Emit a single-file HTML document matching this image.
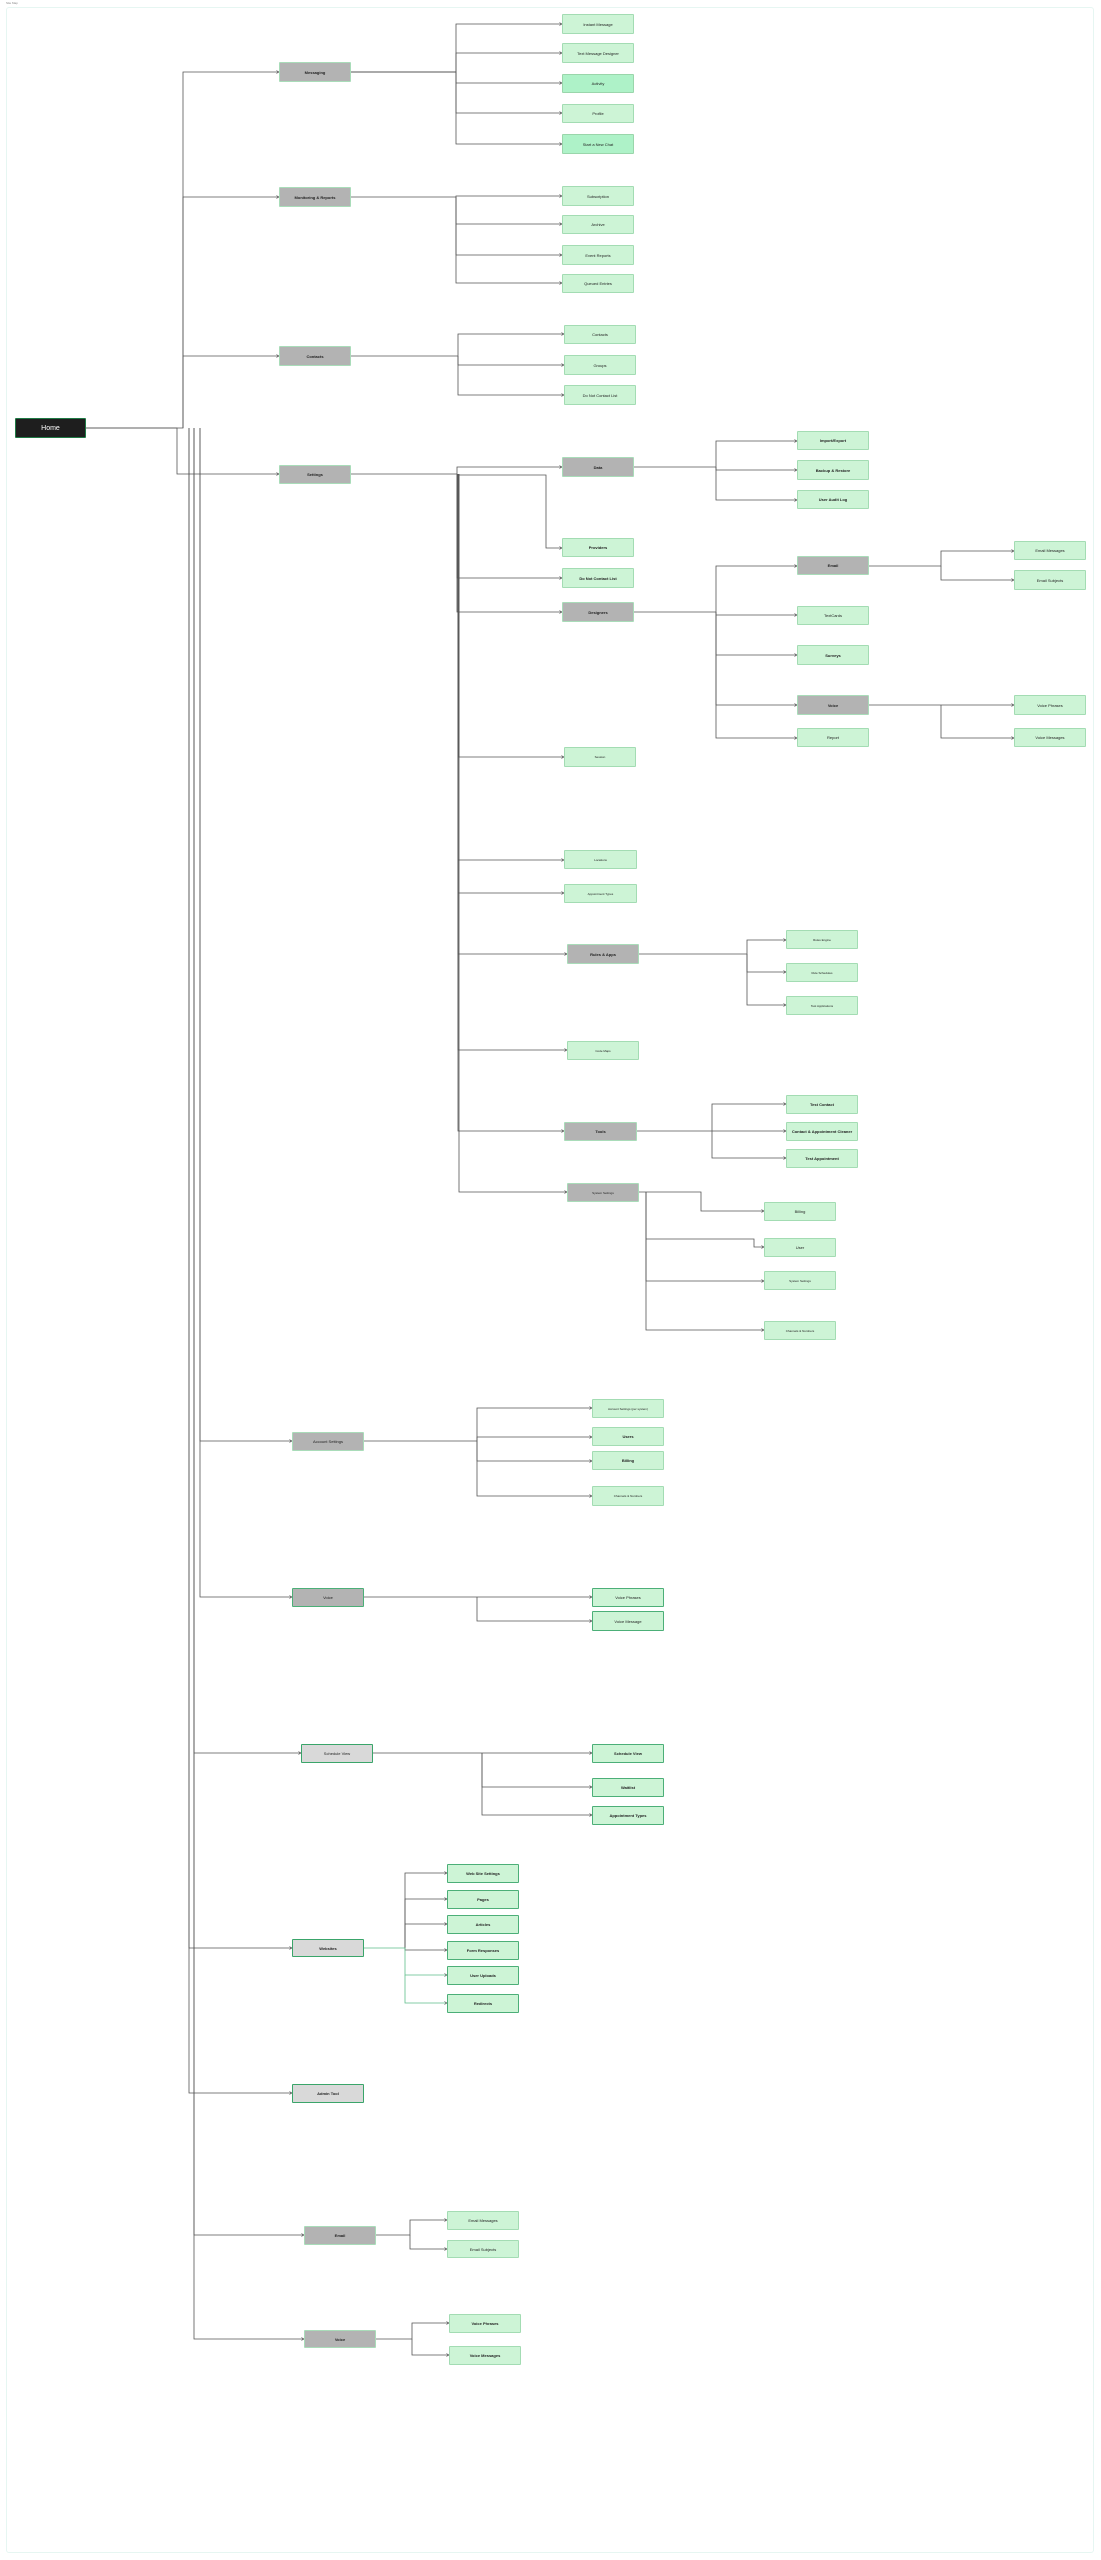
<!DOCTYPE html>
<html><head><meta charset="utf-8"><style>
body{margin:0;width:1101px;height:2560px;background:#fff;position:relative;overflow:hidden;font-family:"Liberation Sans",sans-serif}
.n{position:absolute;box-sizing:border-box;display:flex;align-items:center;justify-content:center;text-align:center;font-size:4px;color:#222;border-radius:1px;white-space:nowrap}
.G{background:#b3b3b3;border:1px solid #a9dcb9;font-weight:bold}
.L{background:#cdf4d6;border:1px solid #a3dcb3}
.D{background:#aef2c8;border:1px solid #9ad6ab}
.S{background:#d9d9d9;border:1px solid #3aa56a}
.B{background:#cdf4d6;border:1px solid #4caf78;font-weight:bold}
.b{font-weight:bold}
svg{position:absolute;left:0;top:0}
</style></head><body>
<div style="position:absolute;left:6px;top:1px;font-size:3px;color:#888">Site Map</div>
<div style="position:absolute;left:6px;top:7px;width:1088px;height:2546px;border:1px solid #e6f6f2;border-radius:3px;box-sizing:border-box"></div>
<svg width="1101" height="2560" fill="none" stroke="#555" stroke-width="0.8">
<defs><marker id="a" markerWidth="4" markerHeight="4" refX="3.5" refY="2" orient="auto"><path d="M0,0 L3.5,2 L0,4" stroke="#444" stroke-width="0.7" fill="none"/></marker></defs>
<g marker-end="url(#a)">
<!-- Home trunks -->
<path d="M86 428 H183 V72 H279"/>
<path d="M183 428 V197 H279"/>
<path d="M183 428 V356 H279"/>
<path d="M86 428 H177 V474 H279"/>
<path d="M189 428 V1948 H292"/>
<path d="M189 428 V2093 H292"/>
<path d="M194 428 V1753 H301"/>
<path d="M194 428 V2235 H304"/>
<path d="M194 428 V2339 H304"/>
<path d="M200 428 V1441 H292"/>
<path d="M200 428 V1597 H292"/>
<!-- Messaging -->
<path d="M351 72 H456 V24 H562"/>
<path d="M351 72 H456 V53 H562"/>
<path d="M351 72 H456 V83 H562"/>
<path d="M351 72 H456 V113 H562"/>
<path d="M351 72 H456 V144 H562"/>
<!-- Monitoring -->
<path d="M351 197 H456 V196 H562"/>
<path d="M456 197 V224 H562"/>
<path d="M456 197 V255 H562"/>
<path d="M456 197 V283 H562"/>
<!-- Contacts -->
<path d="M351 356 H458 V334 H564"/>
<path d="M458 356 V365 H564"/>
<path d="M458 356 V395 H564"/>
<!-- Settings -->
<path d="M351 474 H457 V467 H562"/>
<path d="M457 475 H546 V548 H562"/>
<path d="M457 474 V578 H562"/>
<path d="M457 474 V612 H562"/>
<path d="M459 474 V757 H564"/>
<path d="M458 474 V860 H564"/>
<path d="M458 474 V893 H564"/>
<path d="M458 474 V954 H567"/>
<path d="M458 474 V1050 H567"/>
<path d="M458 474 V1131 H564"/>
<path d="M459 474 V1192 H567"/>
<!-- Data -->
<path d="M634 467 H716 V441 H797"/>
<path d="M716 467 V470 H797"/>
<path d="M716 467 V500 H797"/>
<!-- Designers -->
<path d="M634 612 H716 V566 H797"/>
<path d="M716 612 V615 H797"/>
<path d="M716 612 V655 H797"/>
<path d="M716 612 V705 H797"/>
<path d="M716 612 V738 H797"/>
<path d="M869 566 H941 V551 H1014"/>
<path d="M941 566 V580 H1014"/>
<path d="M869 705 H941 V705 H1014"/>
<path d="M941 705 V738 H1014"/>
<!-- Rules -->
<path d="M639 954 H747 V940 H786"/>
<path d="M747 954 V972 H786"/>
<path d="M747 954 V1005 H786"/>
<!-- Tools -->
<path d="M637 1131 H712 V1104 H786"/>
<path d="M712 1131 H786"/>
<path d="M712 1131 V1158 H786"/>
<!-- System settings -->
<path d="M639 1192 H701 V1211 H764"/>
<path d="M646 1192 V1239 H754 V1247 H764"/>
<path d="M646 1192 V1281 H764"/>
<path d="M646 1192 V1330 H764"/>
<!-- Account settings -->
<path d="M364 1441 H477 V1408 H592"/>
<path d="M477 1441 V1437 H592"/>
<path d="M477 1441 V1461 H592"/>
<path d="M477 1441 V1496 H592"/>
<!-- Voice 1 -->
<path d="M364 1597 H592"/>
<path d="M477 1597 V1621 H592"/>
<!-- Schedule -->
<path d="M373 1753 H592"/>
<path d="M482 1753 V1787 H592"/>
<path d="M482 1753 V1815 H592"/>
<!-- Websites -->
<path d="M405 1948 V1873 H447"/>
<path d="M405 1948 V1899 H447"/>
<path d="M405 1948 V1924 H447"/>
<path d="M405 1948 V1950 H447"/>
<path d="M364 1948 H405 V1975 H447" stroke="#5fbf8a"/>
<path d="M405 1975 V2003 H447" stroke="#5fbf8a"/>
<!-- Email / Voice bottom -->
<path d="M376 2235 H410 V2220 H447"/>
<path d="M410 2235 V2249 H447"/>
<path d="M376 2339 H412 V2323 H449"/>
<path d="M412 2339 V2355 H449"/>
</g>
</svg>

<div class="n" style="left:15px;top:418px;width:71px;height:20px;background:#1e1e1e;border:1px solid #1f7a45;color:#fff;font-size:7px">Home</div>

<div class="n G" style="left:279px;top:62px;width:72px;height:20px">Messaging</div>
<div class="n L" style="left:562px;top:14px;width:72px;height:20px">Instant Message</div>
<div class="n L" style="left:562px;top:43px;width:72px;height:20px">Text Message Designer</div>
<div class="n D" style="left:562px;top:74px;width:72px;height:19px">Activity</div>
<div class="n L" style="left:562px;top:104px;width:72px;height:19px">Profile</div>
<div class="n D" style="left:562px;top:134px;width:72px;height:20px">Start a New Chat</div>

<div class="n G" style="left:279px;top:187px;width:72px;height:20px">Monitoring &amp; Reports</div>
<div class="n L" style="left:562px;top:186px;width:72px;height:20px">Subscription</div>
<div class="n L" style="left:562px;top:215px;width:72px;height:19px">Archive</div>
<div class="n L" style="left:562px;top:245px;width:72px;height:20px">Event Reports</div>
<div class="n L" style="left:562px;top:274px;width:72px;height:19px">Queued Entries</div>

<div class="n G" style="left:279px;top:346px;width:72px;height:20px">Contacts</div>
<div class="n L" style="left:564px;top:325px;width:72px;height:19px">Contacts</div>
<div class="n L" style="left:564px;top:355px;width:72px;height:20px">Groups</div>
<div class="n L" style="left:564px;top:385px;width:72px;height:20px">Do Not Contact List</div>

<div class="n G" style="left:279px;top:465px;width:72px;height:19px">Settings</div>
<div class="n G" style="left:562px;top:457px;width:72px;height:20px">Data</div>
<div class="n L b" style="left:797px;top:431px;width:72px;height:19px">Import/Export</div>
<div class="n L b" style="left:797px;top:460px;width:72px;height:20px">Backup &amp; Restore</div>
<div class="n L b" style="left:797px;top:490px;width:72px;height:19px">User Audit Log</div>
<div class="n L b" style="left:562px;top:538px;width:72px;height:19px">Providers</div>
<div class="n L b" style="left:562px;top:568px;width:72px;height:20px">Do Not Contact List</div>
<div class="n G" style="left:562px;top:602px;width:72px;height:20px">Designers</div>
<div class="n G" style="left:797px;top:556px;width:72px;height:19px">Email</div>
<div class="n L" style="left:1014px;top:541px;width:72px;height:19px">Email Messages</div>
<div class="n L" style="left:1014px;top:570px;width:72px;height:20px">Email Subjects</div>
<div class="n L" style="left:797px;top:606px;width:72px;height:19px">TextCards</div>
<div class="n L b" style="left:797px;top:645px;width:72px;height:20px">Surveys</div>
<div class="n G" style="left:797px;top:695px;width:72px;height:20px">Voice</div>
<div class="n L" style="left:1014px;top:695px;width:72px;height:20px">Voice Phrases</div>
<div class="n L" style="left:1014px;top:728px;width:72px;height:19px">Voice Messages</div>
<div class="n L" style="left:797px;top:728px;width:72px;height:19px">Report</div>
<div class="n L" style="left:564px;top:747px;width:72px;height:20px;font-size:3px">Session</div>
<div class="n L" style="left:564px;top:850px;width:73px;height:19px;font-size:3px">Locations</div>
<div class="n L" style="left:564px;top:884px;width:73px;height:19px;font-size:3px">Appointment Types</div>
<div class="n G" style="left:567px;top:944px;width:72px;height:20px">Rules &amp; Apps</div>
<div class="n L" style="left:786px;top:930px;width:72px;height:19px;font-size:3px">Rules Engine</div>
<div class="n L" style="left:786px;top:963px;width:72px;height:19px;font-size:3px">Rule Schedules</div>
<div class="n L" style="left:786px;top:996px;width:72px;height:19px;font-size:3px">Test Applications</div>
<div class="n L" style="left:567px;top:1041px;width:72px;height:19px;font-size:3px">Code Maps</div>
<div class="n G" style="left:564px;top:1122px;width:73px;height:19px">Tools</div>
<div class="n L b" style="left:786px;top:1095px;width:72px;height:19px">Test Contact</div>
<div class="n L b" style="left:786px;top:1122px;width:72px;height:19px">Contact &amp; Appointment Cleaner</div>
<div class="n L b" style="left:786px;top:1149px;width:72px;height:19px">Test Appointment</div>
<div class="n G" style="left:567px;top:1183px;width:72px;height:19px;font-size:3px;font-weight:normal">System Settings</div>
<div class="n L" style="left:764px;top:1202px;width:72px;height:19px">Billing</div>
<div class="n L" style="left:764px;top:1238px;width:72px;height:19px">User</div>
<div class="n L" style="left:764px;top:1271px;width:72px;height:19px;font-size:3px">System Settings</div>
<div class="n L" style="left:764px;top:1321px;width:72px;height:19px;font-size:3px">Channels &amp; Numbers</div>

<div class="n G" style="left:292px;top:1432px;width:72px;height:19px;font-weight:normal">Account Settings</div>
<div class="n L" style="left:592px;top:1399px;width:72px;height:19px;font-size:3px">Account Settings (per system)</div>
<div class="n L b" style="left:592px;top:1427px;width:72px;height:19px">Users</div>
<div class="n L b" style="left:592px;top:1451px;width:72px;height:19px">Billing</div>
<div class="n L" style="left:592px;top:1486px;width:72px;height:20px;font-size:3px">Channels &amp; Numbers</div>

<div class="n G" style="left:292px;top:1588px;width:72px;height:19px;border-color:#4caf78;font-weight:normal">Voice</div>
<div class="n L" style="left:592px;top:1588px;width:72px;height:19px;border-color:#4caf78">Voice Phrases</div>
<div class="n L" style="left:592px;top:1611px;width:72px;height:20px;border-color:#4caf78">Voice Message</div>

<div class="n S" style="left:301px;top:1744px;width:72px;height:19px">Schedule View</div>
<div class="n B" style="left:592px;top:1744px;width:72px;height:19px">Schedule View</div>
<div class="n B" style="left:592px;top:1778px;width:72px;height:19px">Waitlist</div>
<div class="n B" style="left:592px;top:1806px;width:72px;height:19px">Appointment Types</div>

<div class="n S b" style="left:292px;top:1939px;width:72px;height:18px">Websites</div>
<div class="n B" style="left:447px;top:1864px;width:72px;height:19px">Web Site Settings</div>
<div class="n B" style="left:447px;top:1890px;width:72px;height:19px">Pages</div>
<div class="n B" style="left:447px;top:1915px;width:72px;height:19px">Articles</div>
<div class="n B" style="left:447px;top:1941px;width:72px;height:19px">Form Responses</div>
<div class="n B" style="left:447px;top:1966px;width:72px;height:19px">User Uploads</div>
<div class="n B" style="left:447px;top:1994px;width:72px;height:19px">Redirects</div>

<div class="n S b" style="left:292px;top:2084px;width:72px;height:19px">Admin Tool</div>

<div class="n G" style="left:304px;top:2226px;width:72px;height:19px">Email</div>
<div class="n L" style="left:447px;top:2211px;width:72px;height:19px">Email Messages</div>
<div class="n L" style="left:447px;top:2240px;width:72px;height:18px">Email Subjects</div>

<div class="n G" style="left:304px;top:2330px;width:72px;height:18px">Voice</div>
<div class="n L b" style="left:449px;top:2314px;width:72px;height:19px">Voice Phrases</div>
<div class="n L b" style="left:449px;top:2346px;width:72px;height:19px">Voice Messages</div>
</body></html>
